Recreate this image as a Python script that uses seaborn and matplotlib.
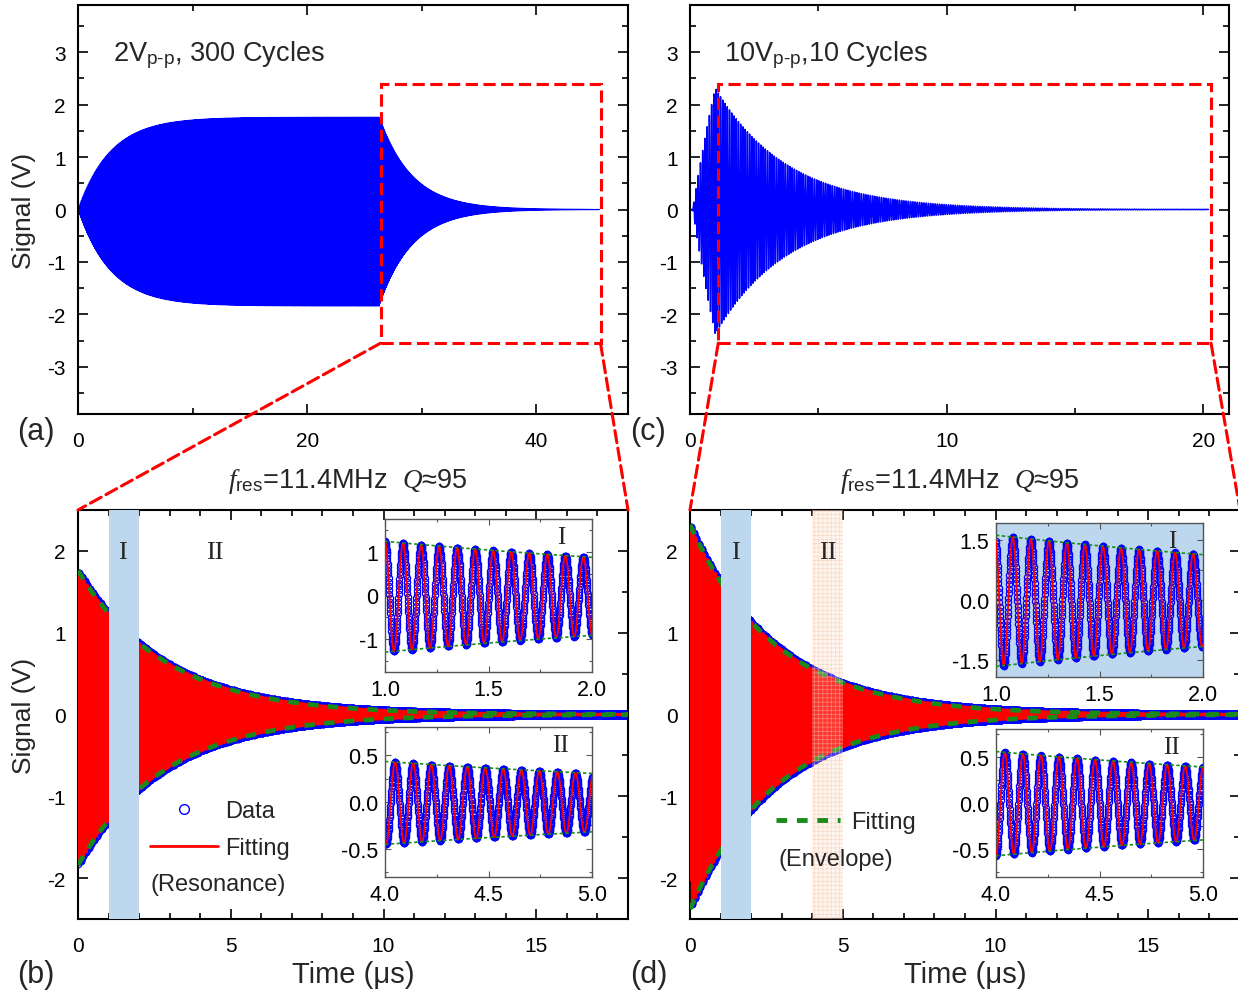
import numpy as np
import pandas as pd
import matplotlib
matplotlib.use("Agg")
import matplotlib.pyplot as plt
from matplotlib.patches import Rectangle, ConnectionPatch
from matplotlib.lines import Line2D
from matplotlib.ticker import MultipleLocator, FormatStrFormatter
import seaborn as sns

W, H = 1238, 995

# ---- values ----
F_CARRIER = 11.48                 # MHz, peak spacing read in the insets (label: 11.4 MHz)
RUN_2V = [0.0, 26.3, 45.5]        # drive on, drive off, record end (us) -- panel (a)
RUN_10V = [0.10, 0.98, 20.2]      # drive on, drive off, record end (us) -- panel (c)
AMP_2V = [1.80, -0.04]            # amplitude at drive off, dc offset (V)
AMP_10V = [2.35, -0.03]
TAU_2V = 2.85                     # us, amplitude decay time
TAU_10V = 2.80
PEAK_REF_2V = 1.0                 # a crest sits at t=1.0 us in panel (b)
PEAK_REF_10V = 0.994              # and at t=0.994 us in panel (d)

BOX_A = [26.4, 45.6, -2.55, 2.4]  # dashed zoom boxes (x0, x1, y0, y1)
BOX_C = [1.1, 20.3, -2.55, 2.4]
BAND_I = [1.0, 2.0]
BAND_II = [4.0, 5.0]
WINDOW = 18.0

panel_tags = ["(a)", "(b)", "(c)", "(d)"]
run_titles = ["2V$_\\mathregular{p\u2010p}$, 300 Cycles",
              "10V$_\\mathregular{p\u2010p}$,10 Cycles"]
fit_title = "$f_\\mathrm{res}$=11.4MHz  $Q$≈95"

sns.set_theme(style="ticks")
plt.rcParams["font.family"] = ["Liberation Sans", "DejaVu Sans"]
plt.rcParams["mathtext.fontset"] = "custom"
plt.rcParams["mathtext.rm"] = "Liberation Sans"
plt.rcParams["mathtext.it"] = "Liberation Serif:italic"
plt.rcParams["hatch.linewidth"] = 0.5
plt.rcParams["axes.unicode_minus"] = False

BLUE, RED, GREEN = "#0000ff", "#ff0000", "#1a8a1a"
BAND_BLUE = "#bdd7ee"
DT = 0.001


def ring(run, amp, tau, t_ref):
    t_on, t_off, t_end = run
    t = np.arange(0, t_end + DT / 2, DT)
    drive = amp[0] / (1 - np.exp(-(t_off - t_on) / tau))
    env = np.where(t < t_on, 0.0,
                   np.where(t < t_off, drive * (1 - np.exp(-(t - t_on) / tau)),
                            amp[0] * np.exp(-(t - t_off) / tau)))
    v = env * (np.cos(2 * np.pi * F_CARRIER * (t - t_ref)) + amp[1] / amp[0])
    up = env * (1 + amp[1] / amp[0])
    lo = env * (-1 + amp[1] / amp[0])
    return pd.DataFrame({"t": t, "v": v, "up": up, "lo": lo})


df_a = ring(RUN_2V, AMP_2V, TAU_2V, RUN_2V[1] + PEAK_REF_2V)
df_c = ring(RUN_10V, AMP_10V, TAU_10V, RUN_10V[1] + PEAK_REF_10V)


def window(df, t0):
    d = df[(df.t >= t0) & (df.t <= t0 + WINDOW)].copy()
    d["t"] = d["t"] - t0
    return d


df_b = window(df_a, RUN_2V[1])
df_d = window(df_c, RUN_10V[1])

fig = plt.figure(figsize=(W / 100, H / 100), dpi=100)


def px_axes(l, t, r, b):
    return fig.add_axes([l / W, 1 - b / H, (r - l) / W, (b - t) / H])


def px_text(x, y, s, **kw):
    fig.text(x / W, 1 - y / H, s, **kw)


def style(ax, size=15, major=7, minor=4, lw=1.5, col="black"):
    for sp in ax.spines.values():
        sp.set_visible(True)
        sp.set_linewidth(lw)
        sp.set_color(col)
    ax.tick_params(which="both", direction="in", top=True, right=True,
                   labelsize=size, pad=9, colors=col, labelcolor="black")
    ax.tick_params(axis="x", pad=12)
    ax.tick_params(which="major", length=major, width=lw * 0.8)
    ax.tick_params(which="minor", length=minor, width=lw * 0.8)
    ax.set_xlabel("")
    ax.set_ylabel("")


ax_a = px_axes(78, 6, 628, 415)
ax_c = px_axes(690, 6, 1229, 415)
ax_b = px_axes(78, 511, 628, 920)
ax_d = px_axes(690, 511, 1240, 920)

# ---- top panels: raw ring-up / ring-down ----
for ax, df, xmax, major, box, title, lw in [
        (ax_a, df_a, 48, 20, BOX_A, run_titles[0], 0.9),
        (ax_c, df_c, 21, 10, BOX_C, run_titles[1], 1.1)]:
    sns.lineplot(data=df, x="t", y="v", color=BLUE, lw=lw, estimator=None,
                 sort=False, ax=ax)
    ax.set_xlim(0, xmax)
    ax.set_ylim(-3.9, 3.9)
    ax.xaxis.set_major_locator(MultipleLocator(major))
    ax.xaxis.set_minor_locator(MultipleLocator(major / 2))
    ax.yaxis.set_major_locator(MultipleLocator(1))
    ax.yaxis.set_minor_locator(MultipleLocator(0.5))
    style(ax)
    ax.add_patch(Rectangle((box[0], box[2]), box[1] - box[0], box[3] - box[2],
                           fill=False, ec=RED, lw=2.2, ls=(0, (4, 1.8)), zorder=6))
    ax.text(0.063, 0.88, title, transform=ax.transAxes,
            fontsize=19.5, va="center", ha="left")

# ---- bottom panels: fitted ring-down ----
for ax, df in [(ax_b, df_b), (ax_d, df_d)]:
    sns.lineplot(data=df, x="t", y="v", color=BLUE, marker="o", markersize=4.8,
                 markerfacecolor="none", markeredgecolor=BLUE, markeredgewidth=0.8,
                 linestyle="", estimator=None, sort=False, ax=ax, zorder=2)
    sns.lineplot(data=df, x="t", y="v", color=RED, lw=2.2, estimator=None,
                 sort=False, ax=ax, zorder=3)
    for col in ["up", "lo"]:
        sns.lineplot(data=df, x="t", y=col, color=GREEN, lw=3.4,
                     linestyle=(0, (2.2, 2.0)), estimator=None, sort=False,
                     ax=ax, zorder=4)
    ax.axvspan(*BAND_I, color=BAND_BLUE, lw=0, zorder=5)
    ax.set_xlim(0, WINDOW)
    ax.set_ylim(-2.5, 2.5)
    ax.xaxis.set_major_locator(MultipleLocator(5))
    ax.xaxis.set_minor_locator(MultipleLocator(1))
    ax.yaxis.set_major_locator(MultipleLocator(1))
    ax.yaxis.set_minor_locator(MultipleLocator(0.5))
    style(ax)
    ax.set_xlabel("Time (μs)", fontsize=21, labelpad=4)

ax_d.axvspan(*BAND_II, facecolor=(0.99, 0.86, 0.78, 0.25), hatch="++++",
             edgecolor=(0.97, 0.76, 0.64, 0.55), lw=0, zorder=5)

ax_a.set_ylabel("Signal (V)", fontsize=19, labelpad=8)
ax_b.set_ylabel("Signal (V)", fontsize=19, labelpad=8)

# ---- insets ----
insets = [(df_b, BAND_I, (385, 520, 592, 673), 1.75, 1, "I", "white"),
          (df_b, BAND_II, (385, 728, 592, 878), 0.8, 0.5, "II", "white"),
          (df_d, BAND_I, (996, 524, 1203, 678), 1.93, 1.5, "I", BAND_BLUE),
          (df_d, BAND_II, (996, 730, 1203, 878), 0.8, 0.5, "II", "white")]
for df, band, box, ylim, ystep, tag, face in insets:
    ax = px_axes(*box)
    ax.set_facecolor(face)
    sub = df[(df.t >= band[0]) & (df.t <= band[1])]
    sns.lineplot(data=sub, x="t", y="v", marker="o", markersize=4.5,
                 markerfacecolor="none", markeredgecolor=BLUE, markeredgewidth=0.9,
                 linestyle="", estimator=None, sort=False, ax=ax, zorder=2)
    sns.lineplot(data=sub, x="t", y="v", color=RED, lw=1.3, estimator=None,
                 sort=False, ax=ax, zorder=3)
    for col in ["up", "lo"]:
        sns.lineplot(data=sub, x="t", y=col, color=GREEN, lw=1.2,
                     linestyle=(0, (2.0, 1.5)), estimator=None, sort=False,
                     ax=ax, zorder=4)
    ax.set_xlim(*band)
    ax.set_ylim(-ylim, ylim)
    ax.xaxis.set_major_locator(MultipleLocator(0.5))
    ax.xaxis.set_minor_locator(MultipleLocator(0.25))
    ax.yaxis.set_major_locator(MultipleLocator(ystep))
    ax.yaxis.set_minor_locator(MultipleLocator(ystep / 2))
    ax.yaxis.set_major_formatter(FormatStrFormatter("%d" if ystep == 1 else "%.1f"))
    ax.xaxis.set_major_formatter(FormatStrFormatter("%.1f"))
    style(ax, size=15.5, major=4, minor=2, lw=1.0, col="#555555")
    ax.tick_params(pad=5)
    ax.text(0.85, 0.88, tag, transform=ax.transAxes, fontsize=18,
            family="Liberation Serif", ha="center", va="center")

# ---- zoom connectors ----
for src, box, dst in [(ax_a, BOX_A, ax_b), (ax_c, BOX_C, ax_d)]:
    for xs, xd in [(box[0], 0), (box[1], 1)]:
        con = ConnectionPatch(xyA=(xs, box[2]), coordsA=src.transData,
                              xyB=(xd, 1), coordsB=dst.transAxes,
                              color=RED, lw=2.2, ls=(0, (4, 1.8)), zorder=10)
        fig.add_artist(con)

# ---- annotations ----
for x, y, tag in [(17, 432, panel_tags[0]), (17, 975, panel_tags[1]),
                  (630, 432, panel_tags[2]), (630, 975, panel_tags[3])]:
    px_text(x, y, tag, fontsize=22, va="center", ha="left")

px_text(348, 482, fit_title, fontsize=19.5, ha="center", va="center")
px_text(960, 482, fit_title, fontsize=19.5, ha="center", va="center")

for x, s in [(122, "I"), (215, "II"), (735, "I"), (828, "II")]:
    px_text(x, 553, s, fontsize=19, family="Liberation Serif", ha="center", va="center")

fs = 17
h_data = Line2D([], [], marker="o", ls="", mfc="none", mec=BLUE, ms=7, mew=1)
h_fit = Line2D([], [], color=RED, lw=2)
ax_b.legend([h_data, h_fit], ["Data", "Fitting"], frameon=False, fontsize=fs,
            loc="upper left", bbox_to_anchor=(150 / W, 1 - 801 / H),
            bbox_transform=fig.transFigure, handlelength=2.9, handletextpad=0.3,
            labelspacing=0.63, borderpad=0, borderaxespad=0)
px_text(150, 885, "(Resonance)", fontsize=fs, ha="left", va="center")

h_env = Line2D([], [], color=GREEN, lw=3.5, ls=(0, (2.2, 2.0)))
ax_d.legend([h_env], ["Fitting"], frameon=False, fontsize=fs,
            loc="upper left", bbox_to_anchor=(776 / W, 1 - 812 / H),
            bbox_transform=fig.transFigure, handlelength=2.7, handletextpad=0.5,
            borderpad=0, borderaxespad=0)
px_text(778, 860, "(Envelope)", fontsize=fs, ha="left", va="center")

fig.savefig("out.png", dpi=100)
